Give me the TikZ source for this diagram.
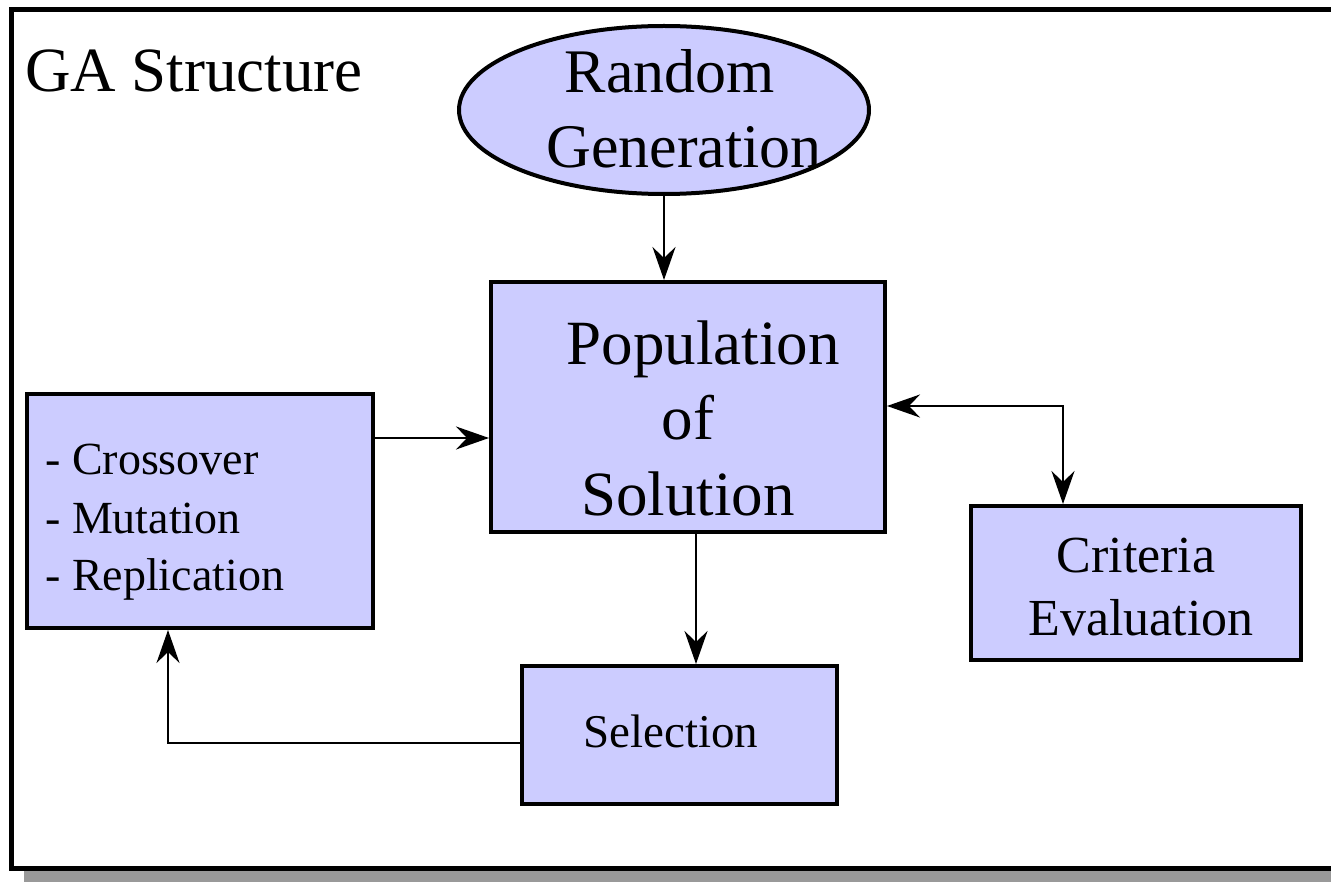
\documentclass[tikz,border=0pt]{standalone}
\usepackage{fontspec}
\setmainfont{Liberation Serif}
\usetikzlibrary{shapes.geometric,arrows.meta}
\definecolor{boxfill}{HTML}{CCCCFF}
\begin{document}
\begin{tikzpicture}[x=1pt,y=-1pt,
  box/.style={draw=black, line width=4pt, fill=boxfill, inner sep=0pt},
  conn/.style={line width=2.5pt, -{Stealth[length=33pt,width=23pt,inset=11pt]}},
  dconn/.style={line width=2.5pt, {Stealth[length=33pt,width=23pt,inset=11pt]}-{Stealth[length=33pt,width=23pt,inset=11pt]}},
  txt/.style={anchor=base, inner sep=0pt},
  bigfont/.style={font=\fontsize{62}{62}\selectfont},
  midfont/.style={font=\fontsize{52}{52}\selectfont},
  smallfont/.style={font=\fontsize{46}{46}\selectfont},
]
\useasboundingbox (0,0) rectangle (1331,882);
\clip (0,0) rectangle (1331,882);
% frame with shadow
\fill[black!40] (24,22) rectangle (1360,890);
\draw[line width=5pt, fill=white] (11,10) rectangle (1360,868);

\node[txt, anchor=base west, font=\fontsize{63}{63}\selectfont] (title) at (25,92) {GA Structure};

% shapes
\node[box, ellipse, minimum width=410pt, minimum height=168pt] (rg) at (664,110) {};
\node[box, minimum width=394pt, minimum height=250pt] (pop) at (688,407) {};
\node[box, minimum width=346pt, minimum height=234pt] (ops) at (200,511) {};
\node[box, minimum width=315pt, minimum height=138pt] (sel) at (679.5,735) {};
\node[box, minimum width=330pt, minimum height=154pt] (crit) at (1136,583) {};

% texts
\node[txt, bigfont] (rg1) at (670,93) {Random};
\node[txt, bigfont] (rg2) at (684,168) {Generation};
\node[txt, font=\fontsize{63}{63}\selectfont] (pop1) at (703,365) {Population};
\node[txt, font=\fontsize{63}{63}\selectfont] (pop2) at (688,440) {of};
\node[txt, font=\fontsize{63}{63}\selectfont] (pop3) at (688,515) {Solution};
\node[txt, smallfont, anchor=base west] (op1) at (45,475) {- Crossover};
\node[txt, smallfont, anchor=base west] (op2) at (45,533) {- Mutation};
\node[txt, smallfont, anchor=base west] (op3) at (45,590) {- Replication};
\node[txt, font=\fontsize{47}{47}\selectfont] (selt) at (671,747) {Selection};
\node[txt, midfont] (cr1) at (1136,572) {Criteria};
\node[txt, midfont] (cr2) at (1141,635) {Evaluation};

% connectors
\draw[conn] (rg.south) -- (rg.south |- pop.north);
\draw[conn] ([yshift=73pt]ops.east) -- ([yshift=73pt]ops.east -| pop.west);
\draw[dconn] ([yshift=1pt]pop.east) -| ([xshift=-73pt]crit.north);
\draw[conn] ([xshift=8pt]pop.south) -- ([xshift=8pt]pop.south |- sel.north);
\draw[conn] ([yshift=-8pt]sel.west) -| ([xshift=-32pt]ops.south);
\end{tikzpicture}
\end{document}
